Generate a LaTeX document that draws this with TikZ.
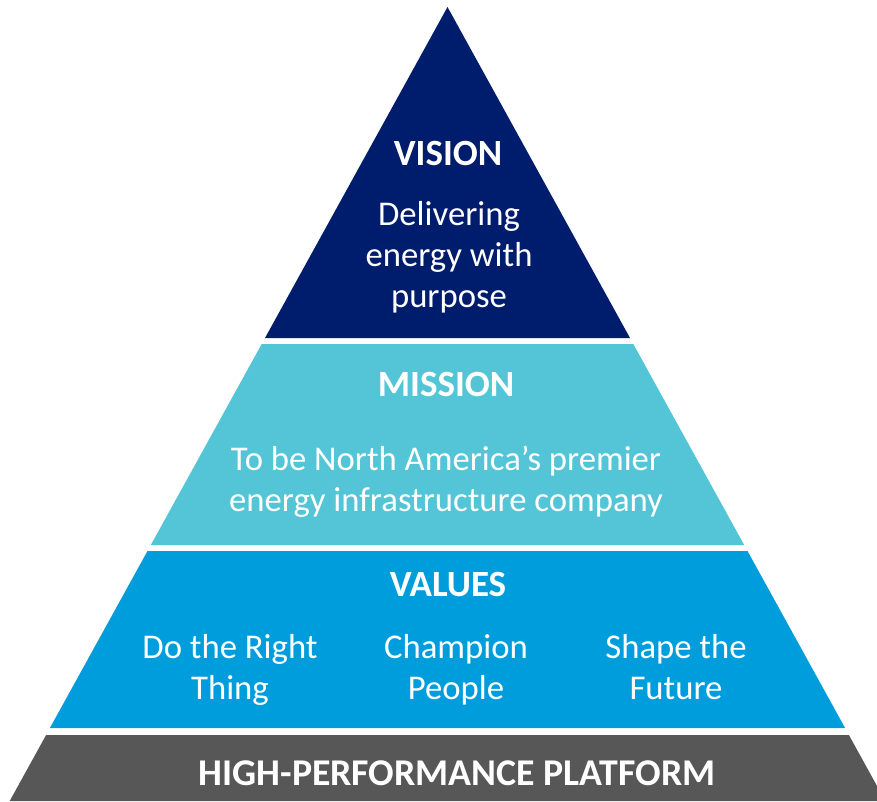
\documentclass[tikz,border=0pt]{standalone}
\usepackage{fontspec}
\setmainfont{Carlito}
\usepackage{tikz}
\definecolor{vision navy}{RGB}{0, 28, 108}
\definecolor{mission teal}{RGB}{83, 197, 214}
\definecolor{values blue}{RGB}{0, 157, 220}
\definecolor{platform gray}{RGB}{87, 87, 87}

\tikzset{
	heading/.style = {text=white, font=\fontsize{37}{40}\selectfont\bfseries},
	body/.style = {text=white, align=center, font=\fontsize{34.7}{41}\selectfont}
}

\begin{document}
\begin{tikzpicture}[x=1pt, y=-1pt]
			\useasboundingbox (0, 0) rectangle (877, 801);
			\clip (0, 0) rectangle (877, 801);
			% layers of the pyramid
			\begin{scope}
				\fill[vision navy] (447.5, 7) -- (630, 338) -- (265, 338) -- cycle;
				\fill[mission teal] (261.7, 344) -- (633.3, 344) -- (744.2, 545) -- (150.8, 545) -- cycle;
				\fill[values blue] (147.5, 551) -- (747.5, 551) -- (845.1, 728) -- (49.9, 728) -- cycle;
				\fill[platform gray] (46.1, 735) -- (848.9, 735) -- (885.3, 801) -- (9.7, 801) -- cycle;
			\end{scope}
			% texts
			\node[heading] (vision) at (448, 153) {VISION};
			\node[body] (visiontext) at (449, 258) {\strut Delivering\\\strut energy with\\\strut purpose};
			\node[heading] (mission) at (446, 384) {MISSION};
			\node[body] (missiontext) at (446, 483) {\strut To be North America’s premier\\\strut energy infrastructure company};
			\node[heading] (values) at (448, 584.5) {VALUES};
			\node[body] (right) at (230, 671) {\strut Do the Right\\\strut Thing};
			\node[body] (people) at (456, 671) {\strut Champion\\\strut People};
			\node[body] (future) at (676, 671) {\strut Shape the\\\strut Future};
			\node[heading, font=\fontsize{37.8}{40}\selectfont\bfseries] (platform) at (457, 773) {HIGH-PERFORMANCE PLATFORM};
		\end{tikzpicture}
\end{document}
